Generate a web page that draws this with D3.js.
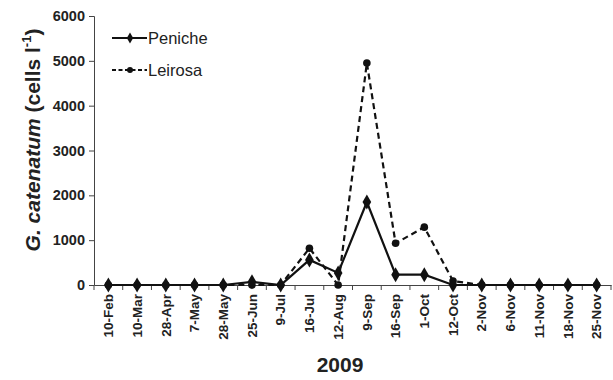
<!DOCTYPE html>
<html><head><meta charset="utf-8">
<script src="https://cdn.jsdelivr.net/npm/d3@7"></script>
<style>body{margin:0;background:#fff}svg{display:block}</style>
</head><body>
<svg id="c" width="613" height="380"></svg>
<script>
const categories = ["10-Feb","10-Mar","28-Apr","7-May","28-May","25-Jun","9-Jul","16-Jul","12-Aug","9-Sep","16-Sep","1-Oct","12-Oct","2-Nov","6-Nov","11-Nov","18-Nov","25-Nov"];
const peniche = [0,0,0,0,0,70,0,560,270,1850,230,230,0,0,0,0,0,0];
const leirosa = [0,0,0,0,0,0,0,820,0,4950,930,1290,90,0,0,0,0,0];
const yTicks = [0,1000,2000,3000,4000,5000,6000];

(function(){
const svg = d3.select("#c");
const mLeft = 94, mRight = 611, mTop = 16, mBottom = 285;
const x = d3.scaleBand().domain(categories).range([mLeft, mRight]);
const y = d3.scaleLinear().domain([0, 6000]).range([mBottom, mTop]);
const axisColor = "#444";
const font = "Arial, 'Liberation Sans', sans-serif";

// y axis
const ya = svg.append("g").attr("transform", `translate(${mLeft},0)`)
  .call(d3.axisLeft(y).tickValues(yTicks).tickSize(5).tickPadding(4).tickFormat(d3.format("d")));
ya.select(".domain").attr("stroke", axisColor);
ya.selectAll(".tick line").attr("stroke", axisColor);
ya.selectAll("text").attr("font-family", font).attr("font-weight", "bold").attr("font-size", 14.5).attr("fill", "#222");

// x axis
const xa = svg.append("g").attr("transform", `translate(0,${mBottom})`)
  .call(d3.axisBottom(x).tickSize(0).tickPadding(0));
xa.select(".domain").attr("stroke", axisColor);
xa.selectAll(".tick line").remove();
const bounds = categories.map(c => x(c)).concat([mRight]);
xa.selectAll(".bline").data(bounds).enter().append("line")
  .attr("x1", d => d).attr("x2", d => d).attr("y1", 0).attr("y2", 5).attr("stroke", axisColor);
xa.selectAll(".tick text")
  .attr("font-family", font).attr("font-weight", "bold").attr("font-size", 13.5).attr("fill", "#222")
  .attr("transform", "rotate(-90)").attr("text-anchor", "end").attr("dy", "0.35em").attr("x", -9).attr("y", 0);

// y title
const yt = svg.append("text").attr("transform", `translate(40,${140}) rotate(-90)`)
  .attr("text-anchor", "middle").attr("font-family", font).attr("font-weight", "bold").attr("font-size", 21).attr("fill", "#222");
yt.append("tspan").attr("font-style", "italic").text("G. catenatum");
yt.append("tspan").text(" (cells l");
yt.append("tspan").attr("font-size", 13).attr("dy", -9).text("-1");
yt.append("tspan").attr("dy", 9).text(")");

// x title
svg.append("text").attr("x", 340).attr("y", 372).attr("text-anchor", "middle")
  .attr("font-family", font).attr("font-weight", "bold").attr("font-size", 21).attr("fill", "#222").text("2009");

const cx = (d, i) => x(categories[i]) + x.bandwidth() / 2;
const line = d3.line().x(cx).y(d => y(d));
const diamond = d3.symbol().type(d3.symbolDiamond).size(65);

// Leirosa
svg.append("path").datum(leirosa).attr("d", line).attr("fill", "none").attr("stroke", "#111")
  .attr("stroke-width", 2.2).attr("stroke-dasharray", "6,4");
svg.selectAll(".lm").data(leirosa).enter().append("circle")
  .attr("cx", cx).attr("cy", d => y(d)).attr("r", 3.8).attr("fill", "#111");

// Peniche
svg.append("path").datum(peniche).attr("d", line).attr("fill", "none").attr("stroke", "#111").attr("stroke-width", 2.2);
svg.selectAll(".pm").data(peniche).enter().append("path")
  .attr("d", diamond).attr("transform", (d, i) => `translate(${cx(d, i)},${y(d)})`).attr("fill", "#111");

// legend
const lg = svg.append("g");
lg.append("line").attr("x1", 112).attr("x2", 147).attr("y1", 38).attr("y2", 38).attr("stroke", "#111").attr("stroke-width", 2);
lg.append("path").attr("d", d3.symbol().type(d3.symbolDiamond).size(35)).attr("transform", "translate(130,38)").attr("fill", "#111");
lg.append("text").attr("x", 148).attr("y", 44).attr("font-family", font).attr("font-size", 16.5).attr("fill", "#222").text("Peniche");
lg.append("line").attr("x1", 112).attr("x2", 147).attr("y1", 70).attr("y2", 70).attr("stroke", "#111").attr("stroke-width", 2).attr("stroke-dasharray", "4,2.5");
lg.append("circle").attr("cx", 130).attr("cy", 70).attr("r", 3).attr("fill", "#111");
lg.append("text").attr("x", 148).attr("y", 76).attr("font-family", font).attr("font-size", 16.5).attr("fill", "#222").text("Leirosa");
})();
</script>
</body></html>
